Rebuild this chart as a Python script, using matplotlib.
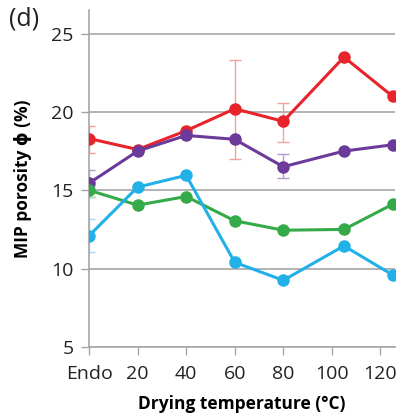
import numpy as np
import matplotlib
matplotlib.use("Agg")
from matplotlib import pyplot as plt

plt.rcParams['font.family'] = ['Open Sans', 'DejaVu Sans']

# drying temperature (Endo plotted at 0)
temps = [0, 20, 40, 60, 80, 105, 125]
tick_pos = [0, 20, 40, 60, 80, 100, 120]
tick_labels = ['Endo', '20', '40', '60', '80', '100', '120']

red = [18.3, 17.6, 18.8, 20.2, 19.4, 23.5, 21.0]
red_lo = [17.4, np.nan, np.nan, 17.0, 18.05, np.nan, np.nan]
red_hi = [19.1, np.nan, np.nan, 23.3, 20.6, np.nan, np.nan]

purple = [15.45, 17.5, 18.5, 18.25, 16.5, 17.5, 17.9]
purple_lo = [14.6, np.nan, np.nan, np.nan, 15.8, np.nan, np.nan]
purple_hi = [16.3, np.nan, np.nan, np.nan, 17.3, np.nan, np.nan]

green = [15.0, 14.05, 14.6, 13.05, 12.45, 12.5, 14.1]
green_lo = [14.6, np.nan, np.nan, np.nan, np.nan, np.nan, np.nan]
green_hi = [15.3, np.nan, np.nan, np.nan, np.nan, np.nan, np.nan]

blue = [12.1, 15.2, 15.95, 10.4, 9.25, 11.45, 9.6]
blue_lo = [11.05, np.nan, np.nan, np.nan, np.nan, np.nan, np.nan]
blue_hi = [13.15, np.nan, np.nan, np.nan, np.nan, np.nan, np.nan]


def main():
    fig = plt.figure(figsize=(4.03, 4.20), dpi=100)
    ax = fig.add_axes([0.221, 0.174, 0.759, 0.802])

    series = [
        (red, red_lo, red_hi, '#E8232A', '#F2A0A2'),
        (purple, purple_lo, purple_hi, '#6B3A9A', '#B39BCB'),
        (green, green_lo, green_hi, '#35AA48', '#A5D8AD'),
        (blue, blue_lo, blue_hi, '#22B0E8', '#A0DBF4'),
    ]
    for y, lo, hi, col, ecol in series:
        y = np.array(y)
        lo = np.array(lo)
        hi = np.array(hi)
        m = ~np.isnan(lo)
        t = np.array(temps)[m]
        ax.errorbar(t, y[m], yerr=[y[m] - lo[m], hi[m] - y[m]], fmt='none',
                    ecolor=ecol, elinewidth=1, capsize=4, capthick=1, zorder=2)
        ax.plot(temps, y, '-o', color=col, lw=2.2, ms=8, zorder=3)

    ax.set_xlim(0, 126)
    ax.set_ylim(5, 26.5)
    ax.set_yticks([5, 10, 15, 20, 25])
    ax.set_xticks(tick_pos)
    ax.set_xticklabels(tick_labels)
    ax.yaxis.grid(True, color='#A6A6A6', lw=1.2)
    ax.set_axisbelow(True)

    for s in ['top', 'right']:
        ax.spines[s].set_visible(False)
    for s in ['left', 'bottom']:
        ax.spines[s].set_color('#A6A6A6')
        ax.spines[s].set_linewidth(1.2)
    ax.tick_params(axis='both', colors='#A6A6A6', labelcolor='#222222',
                   labelsize=14, length=6, width=1)
    ax.tick_params(axis='x', pad=7)
    ax.tick_params(axis='y', pad=5)

    ax.set_xlabel('Drying temperature (°C)', fontsize=12.5, fontweight='bold', labelpad=9)
    ax.set_ylabel('MIP porosity ϕ (%)', fontsize=12.5, fontweight='bold', labelpad=14)
    fig.text(0.022, 0.94, '(d)', fontsize=18, color='#222222')

    fig.savefig('out.png', dpi=100)


if __name__ == '__main__':
    main()
